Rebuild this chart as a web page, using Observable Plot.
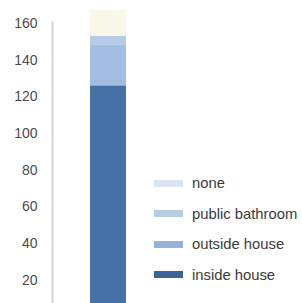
<!DOCTYPE html>
<html>
<head>
<meta charset="utf-8">
<script src="https://cdn.jsdelivr.net/npm/d3@7"></script>
<script src="https://cdn.jsdelivr.net/npm/@observablehq/plot@0.6"></script>
<style>
  html, body { margin: 0; padding: 0; background: #fff; }
  #wrap { position: relative; width: 302px; height: 303px; overflow: hidden; font-family: "Liberation Sans", Arial, sans-serif; }
  #legend { position: absolute; left: 154px; top: 168px; }
  .row { display: flex; align-items: center; height: 30.5px; }
  .sw { width: 29px; height: 7px; margin-right: 9px; }
  .lb { font-size: 14.8px; color: #3a3a3a; white-space: nowrap; }
</style>
</head>
<body>
<div id="wrap"><div id="legend"></div></div>
<script>
// series stacked bottom to top
const series = ["inside house", "outside house", "public bathroom", "none"];
const values = [126, 22, 5, 14];
const barColors = ["#4470a6", "#a2bee1", "#b6cbe8", "#faf8ea"];
const legendColors = ["#3b6597", "#95b3d7", "#b8cce4", "#dbe5f1"];
const yTicks = [20, 40, 60, 80, 100, 120, 140, 160];
const category = "toilet";

const data = series.map((s, i) => ({category, series: s, value: values[i]}));

const chart = Plot.plot({
  width: 302,
  height: 303,
  marginTop: 22,
  marginBottom: 0,
  marginLeft: 52,
  marginRight: 0,
  style: {background: "transparent", color: "#4a4a4a", fontFamily: "'Liberation Sans', Arial, sans-serif", overflow: "hidden"},
  x: {domain: [category], range: [90, 126], padding: 0, axis: null},
  y: {domain: [7.4, 160.5], axis: null, label: null},
  color: {domain: series, range: barColors},
  marks: [
    Plot.barY(data, {x: "category", y: "value", fill: "series", inset: 0}),
    Plot.frame({anchor: "left", stroke: "#d8d3d3", strokeWidth: 2}),
    Plot.axisY({ticks: yTicks, tickSize: 0, tickPadding: 15, fontSize: 14, label: null, tickFormat: d => String(d)})
  ]
});
document.getElementById("wrap").prepend(chart);

const legend = document.getElementById("legend");
[...series].reverse().forEach(s => {
  const i = series.indexOf(s);
  const row = document.createElement("div");
  row.className = "row";
  const sw = document.createElement("div");
  sw.className = "sw";
  sw.style.background = legendColors[i];
  const lb = document.createElement("span");
  lb.className = "lb";
  lb.textContent = s;
  row.appendChild(sw);
  row.appendChild(lb);
  legend.appendChild(row);
});
</script>
</body>
</html>
